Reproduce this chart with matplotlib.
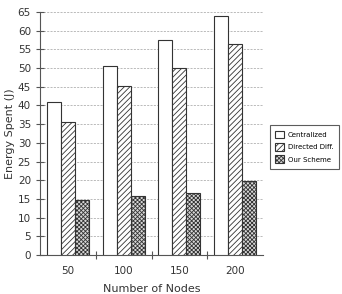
import numpy as np
import matplotlib.pyplot as plt

plt.rcParams['hatch.linewidth'] = 0.6

# Données
nodes = ["50", "100", "150", "200"]
centralized = [40.8, 50.5, 57.5, 63.8]
directed = [35.7, 45.3, 50.0, 56.5]
our_scheme = [14.8, 15.7, 16.5, 19.8]

fig = plt.figure(figsize=(3.42, 2.94), dpi=100)
ax = fig.add_axes([40 / 342, 39 / 294, 223 / 342, 243 / 294])

x = np.arange(len(nodes))
w = 0.25
edge = "#333333"
plt.rcParams['hatch.color'] = "#666666"

ax.bar(x - w, centralized, w, color="white", edgecolor=edge, linewidth=0.8,
       label="Centralized", zorder=3)
ax.bar(x, directed, w, color="white", edgecolor=edge, linewidth=0.8,
       hatch="//////", label="Directed Diff.", zorder=3)
ax.bar(x + w, our_scheme, w, color="#d8d8d8", edgecolor=edge, linewidth=0.8,
       hatch="xxxxxxxx", label="Our Scheme", zorder=3)

ax.set_xlim(-0.5, 3.5)
ax.set_ylim(0, 65)
ax.set_yticks(range(0, 66, 5))
ax.set_xticks([0.5, 1.5, 2.5])
ax.set_xticklabels([])
ax.set_xticks(x, minor=True)
ax.set_xticklabels(nodes, minor=True)
ax.tick_params(axis="x", which="minor", length=0, pad=8, labelsize=7.5, colors="#333333")
ax.tick_params(axis="x", which="major", direction="inout", length=6, color="#555555")
ax.tick_params(axis="y", direction="inout", length=6, labelsize=7.5, colors="#333333", color="#555555")

ax.grid(axis="y", linestyle=(0, (2.5, 1.5)), color="#b0b0b0", linewidth=0.6, zorder=0)
for s in ["top", "right"]:
    ax.spines[s].set_visible(False)
for s in ["left", "bottom"]:
    ax.spines[s].set_color("#555555")

ax.set_xlabel("Number of Nodes", fontsize=8, color="#333333", labelpad=6)
ax.set_ylabel("Energy Spent (J)", fontsize=8, color="#333333", labelpad=2)

leg = ax.legend(loc="upper left", bbox_to_anchor=(1.031, 0.535), borderaxespad=0,
                fontsize=5, frameon=True, fancybox=False, edgecolor="#333333",
                handlelength=1.3, handleheight=1.3, borderpad=0.8,
                labelspacing=0.7, handletextpad=0.5)
leg.get_frame().set_linewidth(0.8)

fig.savefig("out.png", dpi=100)
